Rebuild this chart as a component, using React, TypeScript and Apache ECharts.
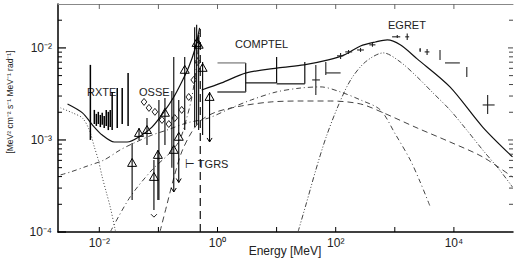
import React, { useEffect, useRef } from "react";
import * as echarts from "echarts";

const X_MIN = 0.002;
const X_MAX = 1e5;
const Y_MIN = 1e-4;
const Y_MAX = 0.03;

const xTickValues = [0.01, 0.1, 1, 10, 100, 1000, 10000];
const xLabelValues = [0.01, 1, 100, 10000];
const xTickLabels = ["10⁻²", "10⁰", "10²", "10⁴"];
const yMajorValues = [1e-4, 1e-3, 1e-2];
const yTickLabels = ["10⁻⁴", "10⁻³", "10⁻²"];
const yMinorValues = [2e-4, 3e-4, 4e-4, 5e-4, 6e-4, 7e-4, 8e-4, 9e-4, 2e-3, 3e-3, 4e-3, 5e-3, 6e-3, 7e-3, 8e-3, 9e-3, 2e-2];

// model curves [E (MeV), E^2 F]
const totalLow = [
  [0.0029, 0.00246], [0.00518, 0.00197], [0.00763, 0.00146], [0.0112, 0.00113], [0.0179, 0.00095],
  [0.0296, 0.00095], [0.0489, 0.0011], [0.0778, 0.00138], [0.124, 0.00202], [0.182, 0.00293],
  [0.248, 0.00427], [0.326, 0.00621], [0.411, 0.0095], [0.498, 0.0165],
];
const totalHigh = [
  [0.54, 0.00349], [1.17, 0.00417], [3.07, 0.00535], [10.6, 0.00606], [29, 0.00654], [75, 0.00741],
  [140, 0.0084], [263, 0.0105], [470, 0.0116], [748, 0.0122], [1236, 0.0108], [2388, 0.0076],
  [8571, 0.00377], [30690, 0.00138], [98140, 0.000654],
];
const pionCurve = [
  [23, 1.0e-4], [31.3, 1.97e-4], [46.1, 4.72e-4], [68, 1.05e-3], [108, 2.28e-3], [179, 4.49e-3],
  [319, 7.05e-3], [641, 8.83e-3], [1236, 7.05e-3], [2388, 4.84e-3], [4439, 3.24e-3], [8571, 2.12e-3],
  [16530, 1.28e-3], [30690, 7.79e-4], [59250, 4.72e-4], [98140, 3.08e-4],
];
const bremsCurve = [
  [0.00221, 4.17e-4], [0.00326, 4.49e-4], [0.00628, 5.21e-4], [0.0121, 6.07e-4], [0.0225, 7.79e-4],
  [0.0387, 9.27e-4], [0.0778, 1.13e-3], [0.139, 1.28e-3], [0.301, 1.53e-3], [0.706, 1.73e-3],
  [1.72, 2.23e-3], [3.72, 2.72e-3], [9.81, 3.32e-3], [25.8, 3.67e-3], [56, 3.77e-3], [121, 3.32e-3],
  [263, 2.72e-3], [570, 2.12e-3], [1019, 1.16e-3], [1823, 6.07e-4], [2684, 3.5e-4], [3951, 1.9e-4],
];
const icCurve = [
  [0.106, 1.0e-4], [0.139, 1.97e-4], [0.182, 3.86e-4], [0.248, 7.41e-4], [0.366, 1.22e-3],
  [0.538, 1.65e-3], [0.962, 2.02e-3], [2.53, 2.34e-3], [8.09, 2.59e-3], [25.8, 2.65e-3],
  [82.5, 2.65e-3], [263, 2.46e-3], [641, 1.97e-3], [2388, 1.35e-3], [8571, 9.51e-4],
  [30690, 6.54e-4], [98140, 3.96e-4],
];
const positroniumCurve = [
  [0.0153, 1.0e-4], [0.0332, 2.4e-4], [0.0778, 4.72e-4], [0.156, 7.22e-4], [0.23, 1.0e-3],
  [0.301, 1.73e-3], [0.366, 2.86e-3], [0.444, 6.54e-3], [0.498, 0.0157],
];
const thermalCurve = [
  [0.00221, 2.23e-3], [0.00352, 1.97e-3], [0.00518, 1.73e-3], [0.00679, 1.28e-3], [0.00824, 8.39e-4],
  [0.00962, 6.07e-4], [0.0112, 3.96e-4], [0.0131, 2.72e-4], [0.0153, 1.87e-4], [0.0186, 1.05e-4],
  [0.0195, 9e-5],
];
const line511 = [[0.511, 1e-4], [0.511, 0.0178]];

// data: [E, F, Flo, Fhi]
const rxteData = [
  [0.00706, 0.0024, 0.001, 0.00654], [0.00824, 0.00178, 0.00149, 0.00212], [0.00891, 0.00165, 0.00142, 0.00192],
  [0.00962, 0.00173, 0.00149, 0.00202], [0.0104, 0.00161, 0.00138, 0.00187], [0.0112, 0.00169, 0.00146, 0.00197],
  [0.0121, 0.00157, 0.00135, 0.00182], [0.0131, 0.00173, 0.00142, 0.00212], [0.0142, 0.00161, 0.00128, 0.00202],
  [0.0153, 0.00169, 0.00138, 0.00212], [0.0165, 0.00202, 0.00128, 0.00332], [0.0201, 0.00212, 0.00135, 0.00367],
  [0.0244, 0.00202, 0.00149, 0.00367], [0.0307, 0.00272, 0.00142, 0.00535],
];
// [E, F, Flo, Fhi, arrowDown]
const osseTriangles = [
  [0.0359, 5.62e-4, 2.23e-4, 9.27e-4, 0], [0.047, 1.19e-3, 1.0e-3, 1.35e-3, 0],
  [0.0641, 1.28e-3, 8.82e-4, 1.73e-3, 0], [0.084, 3.96e-4, 1.73e-4, 6.07e-4, 0],
  [0.098, 6.87e-4, 2.23e-4, 7.8e-4, 0], [0.129, 1.97e-3, 8.82e-4, 2.86e-3, 0],
  [0.182, 7.79e-4, 2.72e-4, 7.98e-3, 1], [0.221, 1.08e-3, 3.45e-4, 2.72e-3, 1],
  [0.279, 5.77e-3, 1.28e-3, 7.98e-3, 0], [0.444, 0.0113, 1.46e-3, 0.0178, 0],
  [0.48, 0.0108, 1.28e-3, 0.0138, 0], [0.56, 6.06e-3, 1.13e-3, 7.05e-3, 0],
  [0.734, 2.93e-3, 9.51e-4, 3.32e-3, 1],
];
const osseDiamonds = [
  [0.0571, 2.59e-3], [0.0692, 2.23e-3], [0.0873, 2.02e-3], [0.115, 1.65e-3], [0.15, 1.49e-3],
  [0.189, 1.73e-3], [0.248, 2.12e-3], [0.326, 2.93e-3], [0.395, 4.49e-3], [0.461, 7.05e-3],
];
const osseBars = [[0.102, 2.23e-4, 2.72e-3], [0.411, 1.38e-3, 0.0168], [0.169, 5e-4, 3.4e-3]];
const osseLimits = [[0.084, 1.45e-4]];
// [Elo, Ehi, Flo, Fhi, drawTop]
const comptelBins = [
  [1, 3, 3.32e-3, 6.87e-3, 1],
  [3, 10, 4.17e-3, 7.98e-3, 0],
  [10, 30, 4.07e-3, 7.05e-3, 0],
];
// [E, F, Flo, Fhi, Elo, Ehi]
const crossData = [
  [46.1, 4.49e-3, 3.08e-3, 6.54e-3, 40, 54],
  [68, 5.35e-3, 5.09e-3, 7.05e-3, 68, 121],
  [121, 8.2e-3, 7.6e-3, 8.8e-3, 105, 135],
  [165, 9.05e-3, 8.6e-3, 9.5e-3, 145, 190],
  [263, 9.5e-3, 9.05e-3, 0.01, 230, 300],
  [419, 0.0108, 0.0103, 0.0113, 370, 470],
  [1101, 0.0132, 0.0128, 0.0138, 900, 1236],
  [1622, 0.0132, 0.0122, 0.0143, 1500, 1750],
  [2684, 9.5e-3, 9.05e-3, 0.01, 2600, 2780],
  [3518, 9.05e-3, 8.4e-3, 9.75e-3, 3200, 3850],
  [5821, 8.4e-3, 7.41e-3, 9.51e-3, 5821, 5821],
  [9254, 6.87e-3, 6.87e-3, 6.87e-3, 7063, 12610],
  [16530, 5.49e-3, 4.84e-3, 6.21e-3, 16530, 16530],
  [37240, 2.4e-3, 1.92e-3, 3.08e-3, 30690, 48850],
];

const FONT = "Liberation Sans, Arial, sans-serif";
const INK = "#222";
const CURVE = "#444";

function lineSeries(data: number[][], type: any, width: number, color: string) {
  return {
    type: "line",
    data,
    showSymbol: false,
    smooth: 0.3,
    clip: true,
    silent: true,
    lineStyle: { type, width, color },
    z: 3,
  };
}

function buildOption() {
  const tri = (cx: number, cy: number, s: number) => [
    [cx, cy - s], [cx - s, cy + s * 0.75], [cx + s, cy + s * 0.75],
  ];
  return {
    animation: false,
    grid: { left: 58, right: 11, top: 4, bottom: 35, containLabel: false },
    xAxis: [
      {
        type: "log", logBase: 10, min: X_MIN, max: X_MAX,
        axisLine: { onZero: false, lineStyle: { color: "#000", width: 1.5 } },
        axisTick: { show: false }, axisLabel: { show: false }, splitLine: { show: false },
      },
      {
        type: "log", logBase: 10, min: X_MIN, max: X_MAX, position: "top",
        axisLine: { onZero: false, lineStyle: { color: "#888", width: 1 } },
        axisTick: { show: false }, axisLabel: { show: false }, splitLine: { show: false },
      },
    ],
    yAxis: [
      {
        type: "log", logBase: 10, min: Y_MIN, max: Y_MAX,
        axisLine: { onZero: false, lineStyle: { color: "#000", width: 1.5 } },
        axisTick: { show: false }, axisLabel: { show: false }, splitLine: { show: false },
      },
      {
        type: "log", logBase: 10, min: Y_MIN, max: Y_MAX, position: "right",
        axisLine: { show: false }, axisTick: { show: false }, axisLabel: { show: false }, splitLine: { show: false },
      },
    ],
    graphic: [
      { type: "text", x: 285, y: 251, style: { text: "Energy [MeV]", font: `12px ${FONT}`, fill: INK, align: "center", verticalAlign: "middle" } },
      { type: "text", x: 10, y: 102, rotation: Math.PI / 2, style: { text: "[MeV² cm⁻² s⁻¹ MeV⁻¹ rad⁻¹]", font: `8.5px ${FONT}`, fill: INK, align: "center", verticalAlign: "middle" } },
      { type: "text", x: 87, y: 92, style: { text: "RXTE", font: `11px ${FONT}`, fill: INK, verticalAlign: "middle" } },
      { type: "text", x: 139, y: 92, style: { text: "OSSE", font: `11px ${FONT}`, fill: INK, verticalAlign: "middle" } },
      { type: "text", x: 235, y: 44, style: { text: "COMPTEL", font: `11px ${FONT}`, fill: INK, verticalAlign: "middle" } },
      { type: "text", x: 388, y: 25, style: { text: "EGRET", font: `11px ${FONT}`, fill: INK, verticalAlign: "middle" } },
      { type: "text", x: 185, y: 164, style: { text: "⊢ TGRS", font: `11px ${FONT}`, fill: INK, verticalAlign: "middle" } },
    ],
    series: [
      lineSeries(totalLow, "solid", 1.2, "#111"),
      lineSeries(totalHigh, "solid", 1.2, "#111"),
      lineSeries(icCurve, [6, 4], 1, CURVE),
      lineSeries(bremsCurve, [5, 3, 1, 3], 1, CURVE),
      lineSeries(pionCurve, [5, 2, 1, 2, 1, 2], 1, CURVE),
      lineSeries(positroniumCurve, [5, 3, 1, 3], 1, CURVE),
      lineSeries(thermalCurve, [1, 2], 1, CURVE),
      { ...lineSeries(line511, [8, 5], 1.2, "#111"), smooth: false },
      // x ticks
      {
        type: "custom", silent: true, z: 6, clip: false,
        data: xTickValues.map((v) => [v, Y_MIN]),
        renderItem: (_p: any, api: any) => {
          const v = api.value(0);
          const b = api.coord([v, Y_MIN]);
          const t = api.coord([v, Y_MAX]);
          return {
            type: "group",
            children: [
              { type: "line", shape: { x1: b[0], y1: b[1], x2: b[0], y2: b[1] - 5 }, style: { stroke: "#000", lineWidth: 1 } },
              { type: "line", shape: { x1: t[0], y1: t[1], x2: t[0], y2: t[1] + 5 }, style: { stroke: "#666", lineWidth: 1 } },
            ],
          };
        },
      },
      // x labels
      {
        type: "custom", silent: true, z: 6, clip: false,
        data: xLabelValues.map((v) => [v, Y_MIN]),
        renderItem: (p: any, api: any) => {
          const b = api.coord([api.value(0), Y_MIN]);
          return { type: "text", x: b[0], y: b[1] + 11, style: { text: xTickLabels[p.dataIndex], font: `12px ${FONT}`, fill: INK, align: "center", verticalAlign: "middle" } };
        },
      },
      // y major ticks and labels
      {
        type: "custom", silent: true, z: 6, clip: false,
        data: yMajorValues.map((v) => [X_MIN, v]),
        renderItem: (p: any, api: any) => {
          const v = api.value(1);
          const l = api.coord([X_MIN, v]);
          const r = api.coord([X_MAX, v]);
          return {
            type: "group",
            children: [
              { type: "line", shape: { x1: l[0], y1: l[1], x2: l[0] + 8, y2: l[1] }, style: { stroke: "#000", lineWidth: 1.2 } },
              { type: "line", shape: { x1: r[0], y1: r[1], x2: r[0] - 5, y2: r[1] }, style: { stroke: "#444", lineWidth: 1 } },
              { type: "text", x: l[0] - 6, y: l[1], style: { text: yTickLabels[p.dataIndex], font: `12px ${FONT}`, fill: INK, align: "right", verticalAlign: "middle" } },
            ],
          };
        },
      },
      // y minor ticks
      {
        type: "custom", silent: true, z: 6, clip: false,
        data: yMinorValues.map((v) => [X_MIN, v]),
        renderItem: (_p: any, api: any) => {
          const v = api.value(1);
          const l = api.coord([X_MIN, v]);
          const r = api.coord([X_MAX, v]);
          return {
            type: "group",
            children: [
              { type: "line", shape: { x1: l[0], y1: l[1], x2: l[0] + 4, y2: l[1] }, style: { stroke: "#000", lineWidth: 1 } },
              { type: "line", shape: { x1: r[0], y1: r[1], x2: r[0] - 4, y2: r[1] }, style: { stroke: "#444", lineWidth: 1 } },
            ],
          };
        },
      },
      // RXTE
      {
        type: "custom", silent: true, z: 5, clip: true,
        data: rxteData,
        renderItem: (_p: any, api: any) => {
          const lo = api.coord([api.value(0), api.value(2)]);
          const hi = api.coord([api.value(0), api.value(3)]);
          return { type: "line", shape: { x1: lo[0], y1: lo[1], x2: hi[0], y2: hi[1] }, style: { stroke: "#000", lineWidth: 1.5 } };
        },
      },
      // OSSE triangles
      {
        type: "custom", silent: true, z: 5, clip: true,
        data: osseTriangles,
        renderItem: (_p: any, api: any) => {
          const e = api.value(0);
          const c = api.coord([e, api.value(1)]);
          const lo = api.coord([e, api.value(2)]);
          const hi = api.coord([e, api.value(3)]);
          const children: any[] = [
            { type: "line", shape: { x1: lo[0], y1: lo[1], x2: hi[0], y2: hi[1] }, style: { stroke: "#000", lineWidth: 1.1 } },
            { type: "polygon", shape: { points: tri(c[0], c[1], 4.5) }, style: { stroke: "#000", fill: "none", lineWidth: 1 } },
          ];
          if (api.value(4) === 1) {
            children.push({ type: "polyline", shape: { points: [[lo[0] - 2.5, lo[1] - 4], [lo[0], lo[1]], [lo[0] + 2.5, lo[1] - 4]] }, style: { stroke: "#000", fill: "none", lineWidth: 1 } });
          }
          return { type: "group", children };
        },
      },
      // OSSE diamonds
      {
        type: "custom", silent: true, z: 5, clip: true,
        data: osseDiamonds,
        renderItem: (_p: any, api: any) => {
          const c = api.coord([api.value(0), api.value(1)]);
          const s = 3.5;
          return { type: "polygon", shape: { points: [[c[0], c[1] - s], [c[0] + s * 0.8, c[1]], [c[0], c[1] + s], [c[0] - s * 0.8, c[1]]] }, style: { stroke: "#222", fill: "none", lineWidth: 1 } };
        },
      },
      // extra OSSE bars
      {
        type: "custom", silent: true, z: 5, clip: true,
        data: osseBars,
        renderItem: (_p: any, api: any) => {
          const lo = api.coord([api.value(0), api.value(1)]);
          const hi = api.coord([api.value(0), api.value(2)]);
          return { type: "line", shape: { x1: lo[0], y1: lo[1], x2: hi[0], y2: hi[1] }, style: { stroke: "#000", lineWidth: 1.1 } };
        },
      },
      // OSSE upper limit heads
      {
        type: "custom", silent: true, z: 5, clip: true,
        data: osseLimits,
        renderItem: (_p: any, api: any) => {
          const c = api.coord([api.value(0), api.value(1)]);
          return { type: "polyline", shape: { points: [[c[0] - 3, c[1] - 3], [c[0], c[1]], [c[0] + 3, c[1] - 3]] }, style: { stroke: "#222", fill: "none", lineWidth: 1 } };
        },
      },
      // COMPTEL bins
      {
        type: "custom", silent: true, z: 5, clip: true,
        data: comptelBins,
        renderItem: (_p: any, api: any) => {
          const bl = api.coord([api.value(0), api.value(2)]);
          const br = api.coord([api.value(1), api.value(2)]);
          const tr = api.coord([api.value(1), api.value(3)]);
          const tl = api.coord([api.value(0), api.value(3)]);
          const children: any[] = [
            { type: "line", shape: { x1: bl[0], y1: bl[1], x2: br[0], y2: br[1] }, style: { stroke: "#111", lineWidth: 1.2 } },
            { type: "line", shape: { x1: br[0], y1: br[1], x2: tr[0], y2: tr[1] }, style: { stroke: "#111", lineWidth: 1.2 } },
          ];
          if (api.value(4) === 1) {
            children.push({ type: "line", shape: { x1: tl[0], y1: tl[1], x2: tr[0], y2: tr[1] }, style: { stroke: "#777", lineWidth: 1.2 } });
            children.push({ type: "line", shape: { x1: bl[0], y1: bl[1], x2: br[0], y2: br[1] }, style: { stroke: "#777", lineWidth: 1.2 } });
          }
          return { type: "group", children };
        },
      },
      // COMPTEL / EGRET crosses
      {
        type: "custom", silent: true, z: 5, clip: true,
        data: crossData,
        renderItem: (_p: any, api: any) => {
          const e = api.value(0);
          const f = api.value(1);
          const lo = api.coord([e, api.value(2)]);
          const hi = api.coord([e, api.value(3)]);
          const l = api.coord([api.value(4), f]);
          const r = api.coord([api.value(5), f]);
          return {
            type: "group",
            children: [
              { type: "line", shape: { x1: lo[0], y1: lo[1], x2: hi[0], y2: hi[1] }, style: { stroke: "#222", lineWidth: 1.1 } },
              { type: "line", shape: { x1: l[0], y1: l[1], x2: r[0], y2: r[1] }, style: { stroke: "#222", lineWidth: 1.1 } },
            ],
          };
        },
      },
    ],
  };
}

export default function App() {
  const ref = useRef<HTMLDivElement>(null);
  useEffect(() => {
    if (!ref.current) return;
    const chart = echarts.init(ref.current, null, { renderer: "svg" });
    chart.setOption(buildOption() as any);
    return () => chart.dispose();
  }, []);
  return (
    <div
      ref={ref}
      style={{ position: "absolute", left: 0, top: 0, width: 524, height: 267, background: "#fff" }}
    />
  );
}
